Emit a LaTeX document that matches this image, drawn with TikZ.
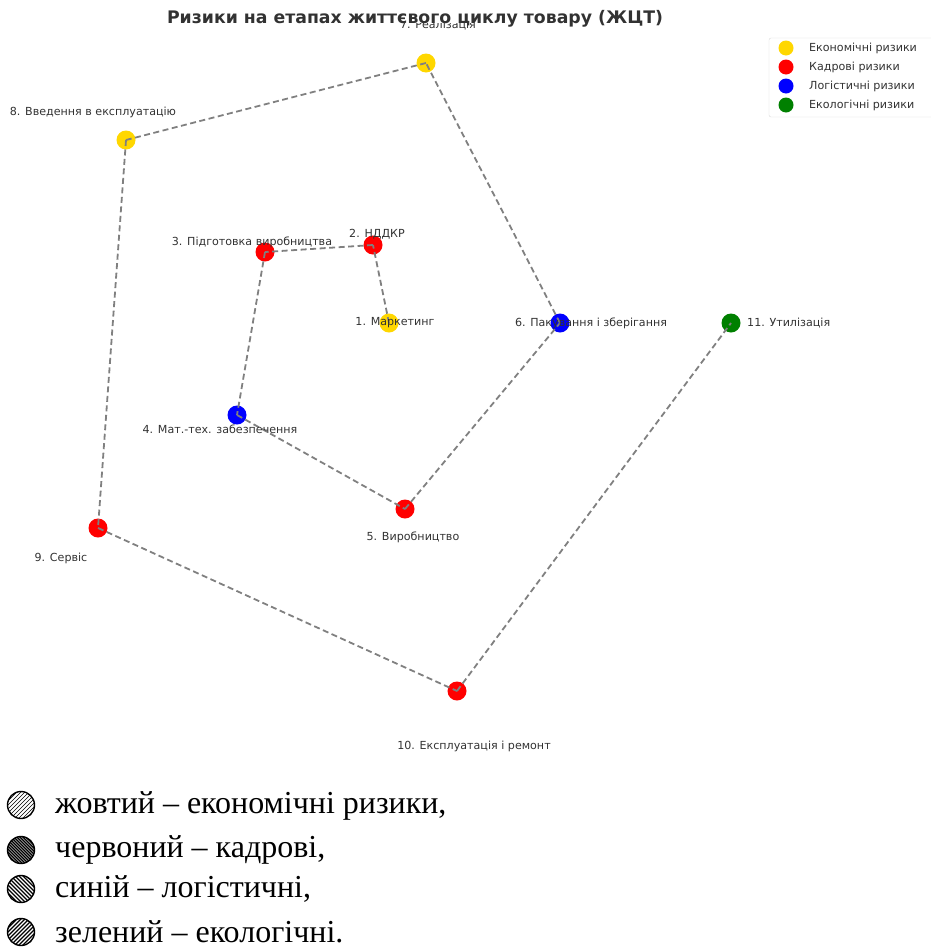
\documentclass[tikz,border=0pt]{standalone}
\usepackage{fontspec}
\setmainfont{DejaVu Sans}
\newfontfamily\serifua{Liberation Serif}
\definecolor{gold}{RGB}{255,215,0}
\definecolor{mplgreen}{RGB}{0,128,0}
\definecolor{txt}{RGB}{50,50,50}
\begin{document}
\begin{tikzpicture}[x=1pt,y=-1pt,
  stage/.style={circle,minimum size=19pt,inner sep=0pt},
  lbl/.style={font=\fontsize{11.1}{13}\selectfont,text=txt,inner sep=0pt},
  edge/.style={draw=gray,line width=1.8pt,dash pattern=on 6pt off 3.5pt},
  lgdot/.style={circle,minimum size=15pt,inner sep=0pt},
  lgtxt/.style={font=\fontsize{11.1}{13}\selectfont,text=txt,anchor=west,inner sep=0pt},
  uatext/.style={font=\serifua\fontsize{32}{35}\selectfont,anchor=west,inner sep=0pt},
  hatchc/.style={draw=black,line width=1.4pt}
]
\useasboundingbox (0,0) rectangle (931,948);
% nodes
\node[stage,fill=gold] (n1) at (389,323) {};
\node[stage,fill=red] (n2) at (373,245) {};
\node[stage,fill=red] (n3) at (265,252) {};
\node[stage,fill=blue] (n4) at (237,415) {};
\node[stage,fill=red] (n5) at (405,509) {};
\node[stage,fill=blue] (n6) at (560,323) {};
\node[stage,fill=gold] (n7) at (426,63) {};
\node[stage,fill=gold] (n8) at (126,140) {};
\node[stage,fill=red] (n9) at (98,528) {};
\node[stage,fill=red] (n10) at (457,691) {};
\node[stage,fill=mplgreen] (n11) at (731,323) {};
% edges
\foreach \a/\b in {n1/n2,n2/n3,n3/n4,n4/n5,n5/n6,n6/n7,n7/n8,n8/n9,n9/n10,n10/n11}
  \draw[edge] (\a.center) -- (\b.center);
% labels
\node[lbl] (l1) at (395,323) {1. Маркетинг};
\node[lbl] (l2) at (377,234) {2. НДДКР};
\node[lbl] (l3) at (252,242) {3. Підготовка виробництва};
\node[lbl] (l4) at (220,429) {4. Мат.-тех. забезпечення};
\node[lbl] (l5) at (413,537) {5. Виробництво};
\node[lbl] (l6) at (591,323) {6. Пакування і зберігання};
\begin{scope}
\clip (300,23) rectangle (600,40);
\node[lbl] (l7) at (438,25) {7. Реалізація};
\end{scope}
\node[lbl] (l8) at (93,112) {8. Введення в експлуатацію};
\node[lbl] (l9) at (61,558) {9. Сервіс};
\node[lbl] (l10) at (474,746) {10. Експлуатація і ремонт};
\node[lbl,anchor=west] (l11) at (747,323) {11. Утилізація};
% title
\node[font=\bfseries\fontsize{17.3}{20}\selectfont,text=txt,inner sep=0pt] (title) at (415,19) {Ризики на етапах життєвого циклу товару (ЖЦТ)};
% legend
\draw[draw=black!15,fill=white,rounded corners=2pt] (769,38) rectangle (935,117);
\node[lgdot,fill=gold] (d1) at (786,48) {};
\node[lgdot,fill=red] (d2) at (786,67) {};
\node[lgdot,fill=blue] (d3) at (786,86) {};
\node[lgdot,fill=mplgreen] (d4) at (786,105) {};
\node[lgtxt] (t1) at (809,48) {Економічні ризики};
\node[lgtxt] (t2) at (809,67) {Кадрові ризики};
\node[lgtxt] (t3) at (809,86) {Логістичні ризики};
\node[lgtxt] (t4) at (809,105) {Екологічні ризики};
% bottom key
\begin{scope}
\clip (21,805) circle (13.5pt);
\foreach \i in {-33,-29,...,33} \draw[line width=0.6pt] (21+\i-16,821) -- (21+\i+16,789);
\end{scope}
\draw[hatchc] (21,805) circle (13.5pt);
\begin{scope}
\clip (21,850) circle (13.5pt);
\foreach \i in {-33,-30,...,33} \draw[line width=1.4pt] (21+\i-16,834) -- (21+\i+16,866);
\end{scope}
\draw[hatchc] (21,850) circle (13.5pt);
\begin{scope}
\clip (21,889) circle (13.5pt);
\foreach \i in {-33,-29,...,33} \draw[line width=1.1pt] (21+\i-16,873) -- (21+\i+16,905);
\end{scope}
\draw[hatchc] (21,889) circle (13.5pt);
\begin{scope}
\clip (21,932) circle (13.5pt);
\foreach \i in {-33,-29,...,33} \draw[line width=1.1pt] (21+\i-16,948) -- (21+\i+16,916);
\end{scope}
\draw[hatchc] (21,932) circle (13.5pt);
\node[uatext] (k1) at (55,806) {жовтий – економічні ризики,};
\node[uatext] (k2) at (55,850) {червоний – кадрові,};
\node[uatext] (k3) at (55,889) {синій – логістичні,};
\node[uatext] (k4) at (55,932) {зелений – екологічні.};
\end{tikzpicture}
\end{document}
